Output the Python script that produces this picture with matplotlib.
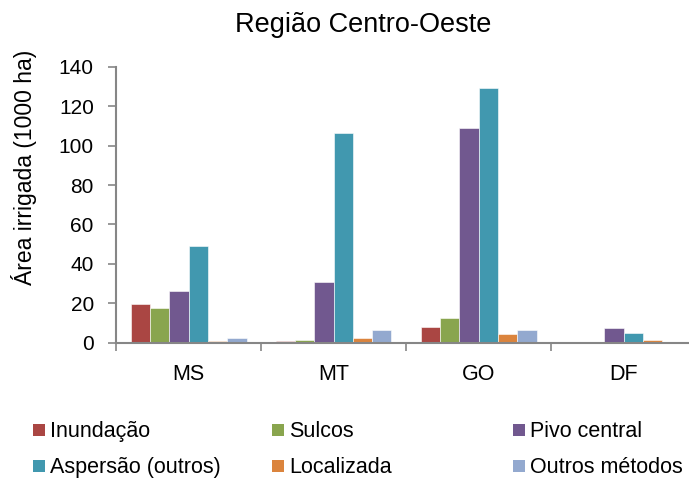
import numpy as np
import matplotlib.pyplot as plt
from matplotlib.patches import Rectangle

plt.rcParams['font.family'] = ['Liberation Sans', 'DejaVu Sans']

states = ['MS', 'MT', 'GO', 'DF']
methods = ['Inundação', 'Sulcos', 'Pivo central',
           'Aspersão (outros)', 'Localizada', 'Outros métodos']
colors = ['#AA4643', '#89A54E', '#71588F', '#4198AF', '#DB843D', '#93A9CF']

inundacao = [19.8, 0.8, 8.0, 0.0]
sulcos = [17.6, 1.3, 12.6, 0.0]
pivo = [26.1, 30.8, 108.8, 7.3]
aspersao = [49.2, 106.3, 129.2, 4.8]
localizada = [0.7, 2.3, 4.5, 1.3]
outros = [2.3, 6.2, 6.4, 0.0]
series = [inundacao, sulcos, pivo, aspersao, localizada, outros]

W, H = 689, 479
fig = plt.figure(figsize=(W / 100, H / 100), dpi=100)
ax = fig.add_axes([116 / W, (H - 342.5) / H, 580 / W, (342.5 - 67) / H])

x = np.arange(len(states))
bw = 1 / 7.5
for i, (vals, c) in enumerate(zip(series, colors)):
    ax.bar(x + (i - 2.5) * bw, vals, bw, color=c,
           edgecolor='white', linewidth=0.4)

ax.set_xlim(-0.5, 3.5)
ax.set_ylim(0, 140)
ax.set_yticks(range(0, 141, 20))
ax.set_xticks(x)
ax.set_xticklabels(states)
ax.set_xticks(np.arange(-0.5, 4, 1), minor=True)
ax.tick_params(axis='x', which='major', length=0, pad=15.5, labelsize=15.5)
ax.tick_params(axis='x', which='minor', length=6, width=1.2, color='#868686')
ax.tick_params(axis='y', length=6, width=1.2, color='#868686',
               labelsize=15, pad=10)
for s in ['top', 'right']:
    ax.spines[s].set_visible(False)
for s in ['left', 'bottom']:
    ax.spines[s].set_color('#868686')
    ax.spines[s].set_linewidth(1.5)

fig.text(24 / W, 1 - 167 / H, 'Área irrigada (1000 ha)', fontsize=16.5,
         rotation=90, ha='center', va='center')
fig.text(363 / W, 1 - 25 / H, 'Região Centro-Oeste', fontsize=19.5,
         ha='center', va='center')

# legend: two rows of three entries, uneven column spacing
col_x = [33, 272, 513]
row_y = [430, 466]
sq = 12
for k, (name, c) in enumerate(zip(methods, colors)):
    cx = col_x[k % 3]
    cy = row_y[k // 3]
    fig.patches.append(Rectangle((cx / W, (H - cy - sq / 2) / H),
                                 sq / W, sq / H, facecolor=c,
                                 transform=fig.transFigure, figure=fig))
    fig.text((cx + sq + 5) / W, 1 - (cy + 1.5) / H, name, fontsize=15.5,
             ha='left', va='center')

fig.savefig('out.png', dpi=100)
